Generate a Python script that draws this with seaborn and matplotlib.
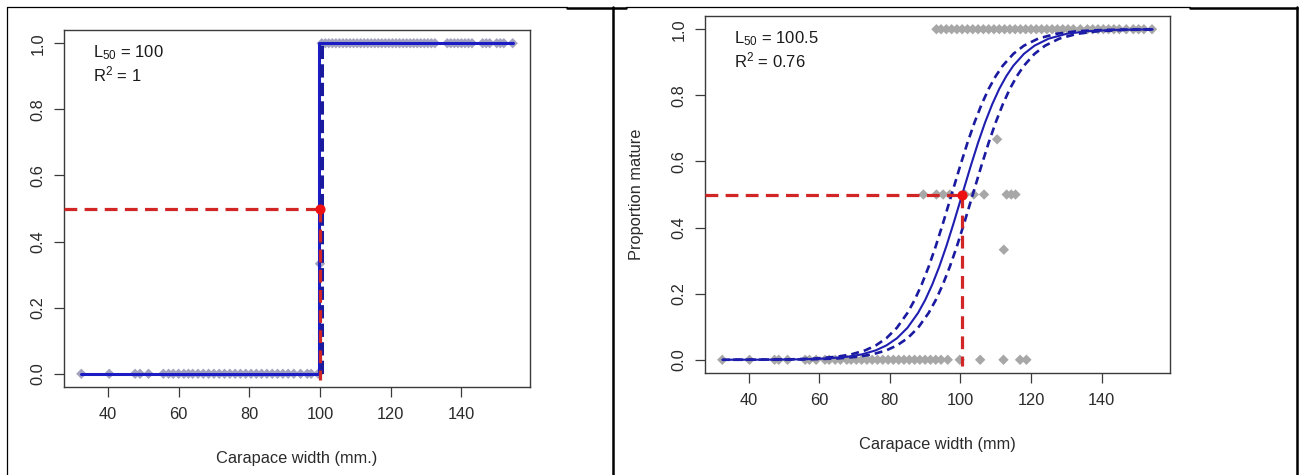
import matplotlib
matplotlib.use("Agg")
import numpy as np
import pandas as pd
import seaborn as sns
import matplotlib.pyplot as plt
from matplotlib.lines import Line2D

"""Data read off the two maturity panels"""

# left panel: observed proportion mature at each width
left_imm_x = [32.5, 40.4, 47.7, 49.1, 51.5, 55.7, 57.2, 58.5, 60, 61.5, 62.8, 64, 65.5, 67,
              68.5, 70, 71.5, 73, 74.5, 76, 77.5, 79, 80.5, 82, 83.5, 85, 86.5, 88, 89.5,
              91, 92.6, 94.5, 96.4, 97.5, 99.5]
left_mat_x = [100.5, 101.5, 102.5, 103.5, 104.5, 105.5, 106.5, 107.5, 108.5, 109.5, 110.5,
              111.5, 112.5, 113.5, 114.5, 115.5, 116.5, 117.5, 118.5, 119.5, 120.5, 121.5,
              122.5, 123.5, 124.5, 125.5, 126.5, 127.5, 128.5, 129.5, 130.5, 131.5, 132.5,
              136, 137, 138, 139, 140, 141, 142, 143, 146, 147, 148, 150, 151, 152, 154.5]
left_mid_x = [100]
left_mid_p = [0.333]

# left panel: fitted step and its confidence line
left_fit_x = [32.5, 99.8, 99.8, 154.5]
left_fit_p = [0, 0, 1, 1]
left_ci_x = [100.5, 100.5]
left_ci_p = [0, 1]
left_l50 = 100
left_r2 = "1"

# right panel: observed proportions
right_imm_x = [32.5, 40.2, 47.3, 48.5, 51.0, 56.0, 57.2, 59.1, 61.6, 62.8, 64.5, 66, 67.8,
               69, 70.5, 72, 73.5, 75, 76.5, 78, 79.5, 81, 82.5, 84, 85.5, 87, 88.5, 90,
               91.5, 93, 94.5, 96.4, 99.8, 105.6, 112.2, 116.9, 118.7]
right_half_x = [89.5, 93.2, 95.1, 97.0, 101.3, 103.8, 106.7, 113.1, 114.4, 115.6]
right_mat_x = [93.2, 94.5, 96, 97.5, 99, 100.5, 102, 103.5, 105, 106.5, 108, 109.5, 111,
               112.5, 114, 115.5, 117, 118.5, 120, 121.5, 123, 124.5, 126, 127.5, 129,
               130.5, 132, 134, 136, 137.5, 139, 140.5, 142, 143.5, 145, 147, 149, 150.5,
               152, 154.3]
right_other_x = [110.4, 112.3]
right_other_p = [0.667, 0.333]

# right panel: fitted logistic with upper / lower confidence curves
fit_p = [0.0001, 0.0003, 0.0014, 0.0039, 0.0092, 0.0162, 0.0285, 0.0433, 0.0651, 0.0969,
         0.1419, 0.1806, 0.2273, 0.2817, 0.3434, 0.411, 0.5, 0.589, 0.6566, 0.7183, 0.7727,
         0.8194, 0.8581, 0.8897, 0.9255, 0.9503, 0.9715, 0.9859, 0.994, 0.9981, 0.9996]
fit_x = [32.5, 45, 55, 62, 68, 72, 76, 79, 82, 85, 88, 90, 92, 94, 96, 98, 100.5, 103, 105,
         107, 109, 111, 113, 115, 118, 121, 125, 130, 136, 144, 154.5]
ci_upper_x = [32.5, 42, 52, 59, 65, 69, 73, 76, 79, 82, 85, 87, 89, 91, 93, 95, 97.5, 100,
              102, 104, 106, 108, 110, 112, 115, 118, 122, 127, 133, 141, 154.5]
ci_lower_x = [35.5, 48, 58, 65, 71, 75, 79, 82, 85, 88, 91, 93, 95, 97, 99, 101, 103.5, 106,
              108, 110, 112, 114, 116, 118, 121, 124, 128, 133, 139, 147, 154.5]
right_l50 = 100.5
right_r2 = "0.76"

x_ticks = [40, 60, 80, 100, 120, 140]
y_ticks = [0.0, 0.2, 0.4, 0.6, 0.8, 1.0]


def points_frame(groups):
    parts = [pd.DataFrame({"width": xs, "prop": ps}) for xs, ps in groups]
    return pd.concat(parts, ignore_index=True)


left_pts = points_frame([(left_imm_x, [0] * len(left_imm_x)),
                         (left_mat_x, [1] * len(left_mat_x)),
                         (left_mid_x, left_mid_p)])
right_pts = points_frame([(right_imm_x, [0] * len(right_imm_x)),
                          (right_half_x, [0.5] * len(right_half_x)),
                          (right_mat_x, [1] * len(right_mat_x)),
                          (right_other_x, right_other_p)])

"""Style"""
sns.set_theme(style="ticks")
plt.rcParams["font.family"] = ["Liberation Sans", "DejaVu Sans"]
plt.rcParams["mathtext.default"] = "regular"

W, H = 1299, 475
fig = plt.figure(figsize=(W / 100, H / 100), dpi=100)
fig.patch.set_facecolor("white")


def px_axes(x0, y0, x1, y1):
    return fig.add_axes([x0 / W, 1 - y1 / H, (x1 - x0) / W, (y1 - y0) / H])


ax1 = px_axes(64, 30, 530, 387)
ax2 = px_axes(705, 16, 1170, 373)

XLIM = (27.6, 159.4)
YLIM = (-0.04, 1.04)
text_col = "#2b2b2b"
red = "#d22626"
gray = "#a7a7a7"


def style_axes(ax, xlabel, ylabel=None):
    ax.set_xlim(*XLIM)
    ax.set_ylim(*YLIM)
    ax.set_xticks(x_ticks)
    ax.set_xticklabels([str(t) for t in x_ticks])
    ax.set_yticks(y_ticks)
    ax.set_yticklabels(["%.1f" % t for t in y_ticks])
    for sp in ax.spines.values():
        sp.set_visible(True)
        sp.set_color("#3a3a3a")
        sp.set_linewidth(1.0)
    ax.tick_params(length=7.2, width=0.9, color="#3a3a3a", labelsize=11.8,
                   labelcolor=text_col, direction="out", bottom=True, left=True)
    ax.tick_params(axis="x", pad=7.5)
    ax.tick_params(axis="y", pad=6.0)
    for lab in ax.get_yticklabels():
        lab.set_rotation(90)
        lab.set_va("center")
    ax.set_xlabel(xlabel, fontsize=11.8, color=text_col)
    ax.xaxis.set_label_coords(0.5, -71 / 357)
    ax.xaxis.label.set_va("center")
    if ylabel:
        ax.set_ylabel(ylabel, fontsize=11.8, color=text_col)
        ax.yaxis.set_label_coords(-69 / 465, 0.5)
        ax.yaxis.label.set_va("center")
    else:
        ax.set_ylabel("")


def l50_guides(ax, l50):
    ax.plot([XLIM[0], l50], [0.5, 0.5], color=red, lw=2.3, dashes=(4.0, 2.3), zorder=5)
    ax.plot([l50, l50], [0.5, -0.02], color=red, lw=2.3, dashes=(4.0, 2.3), zorder=5)
    ax.plot([l50], [0.5], "o", color="#ee1010", ms=6.3, zorder=6)


def stats_text(ax, l50, r2):
    ax.text(35.7, 0.958, "L$_{50}$ = %s" % l50, fontsize=12, color="#1a1a1a",
            ha="left", va="baseline")
    ax.text(35.7, 0.885, "R$^{2}$ = %s" % r2, fontsize=12, color="#1a1a1a",
            ha="left", va="baseline")


# ---- left panel
sns.scatterplot(data=left_pts, x="width", y="prop", ax=ax1, marker="D", s=28,
                color="#a3a3c0", edgecolor="none", linewidth=0, zorder=2)
l50_guides(ax1, left_l50)
sns.lineplot(x=left_ci_x, y=left_ci_p, ax=ax1, estimator=None, sort=False,
             color="#1a1a9e", lw=2.9, zorder=4).lines[-1].set_dashes((3.3, 1.3))
sns.lineplot(x=left_fit_x, y=left_fit_p, ax=ax1, estimator=None, sort=False,
             color="#1c1cc4", lw=2.2, zorder=3)
stats_text(ax1, left_l50, left_r2)
style_axes(ax1, "Carapace width (mm.)")

# ---- right panel
sns.scatterplot(data=right_pts, x="width", y="prop", ax=ax2, marker="D", s=28,
                color=gray, edgecolor="none", linewidth=0, zorder=2)
l50_guides(ax2, right_l50)
for cx in (ci_upper_x, ci_lower_x):
    sns.lineplot(x=cx, y=fit_p, ax=ax2, estimator=None, sort=False,
                 color="#1a1aa0", lw=1.9, zorder=4).lines[-1].set_dashes((3.0, 1.9))
sns.lineplot(x=fit_x, y=fit_p, ax=ax2, estimator=None, sort=False,
             color="#1e1eb0", lw=1.5, zorder=4)
stats_text(ax2, right_l50, right_r2)
style_axes(ax2, "Carapace width (mm)", "Proportion mature")

# ---- table-cell borders around the two panels
def border(xs, ys, lw):
    fig.add_artist(Line2D([x / W for x in xs], [1 - y / H for y in ys],
                          color="black", lw=lw, transform=fig.transFigure))

border([7, 567], [7, 7], 0.9)
border([567, 626], [7.5, 7.5], 1.8)
border([626, 1190], [7, 7], 0.9)
border([1190, 1297], [7.5, 7.5], 1.8)
border([7, 7], [7, 475], 0.9)
border([613, 613], [7, 475], 1.8)
border([1296.5, 1296.5], [7, 475], 1.8)

fig.savefig("out.png", dpi=100, facecolor="white")
